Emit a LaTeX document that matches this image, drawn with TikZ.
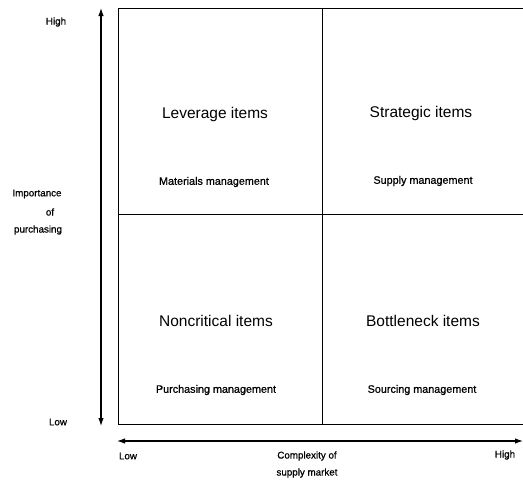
\documentclass[tikz,border=0pt]{standalone}
\usepackage{fontspec}
\setmainfont{Liberation Sans}
\newfontfamily\heavysans[FakeBold=0.8]{Liberation Sans}
\usetikzlibrary{arrows.meta}
\begin{document}
\begin{tikzpicture}[x=1pt,y=-1pt,
  gridline/.style={line width=1pt},
  axisline/.style={line width=1.1pt,{Latex[length=8pt,width=5.5pt]}-{Latex[length=8pt,width=5.5pt]}},
  quadtitle/.style={font=\fontsize{15.5}{18}\selectfont, inner sep=0pt},
  quadsub/.style={font=\heavysans\fontsize{10.8}{13}\selectfont, inner sep=0pt},
  axlabel/.style={font=\heavysans\fontsize{9.8}{12}\selectfont, inner sep=0pt}]
\useasboundingbox (0,0) rectangle (523,480);
% grid
\coordinate (tl) at (118,8);
\coordinate (tm) at (322,8);
\coordinate (tr) at (523,8);
\coordinate (ml) at (118,214);
\coordinate (mr) at (523,214);
\coordinate (bl) at (118,424);
\coordinate (bm) at (322,424);
\coordinate (br) at (523,424);
\draw[gridline] (tr) -- (tl) -- (bl) -- (br);
\draw[gridline] (ml) -- (mr);
\draw[gridline] (tm) -- (bm);
% axes
\coordinate (vt) at (101,8);
\coordinate (vb) at (101,426);
\coordinate (hl) at (117,441);
\coordinate (hr) at (523,441);
\draw[axisline] (vb) -- (vt);
\draw[axisline] (hl) -- (hr);
% quadrant texts
\node[quadtitle] (lev) at (215,114) {Leverage items};
\node[quadsub] (levs) at (214,182) {Materials management};
\node[quadtitle] (str) at (421,113) {Strategic items};
\node[quadsub] (strs) at (423,181) {Supply management};
\node[quadtitle] (non) at (216,321) {Noncritical items};
\node[quadsub] (nons) at (216,390) {Purchasing management};
\node[quadtitle] (bot) at (423,321) {Bottleneck items};
\node[quadsub] (bots) at (422,390) {Sourcing management};
% axis labels
\node[axlabel] (vhigh) at (56,22) {High};
\node[axlabel] (imp1) at (37,194) {Importance};
\node[axlabel] (imp2) at (50,212) {of};
\node[axlabel] (imp3) at (38,230) {purchasing};
\node[axlabel] (vlow) at (58,422) {Low};
\node[axlabel] (hlow) at (128,456) {Low};
\node[axlabel] (cx1) at (307,456) {Complexity of};
\node[axlabel] (cx2) at (307,473) {supply market};
\node[axlabel] (hhigh) at (505,455) {High};
\end{tikzpicture}
\end{document}
